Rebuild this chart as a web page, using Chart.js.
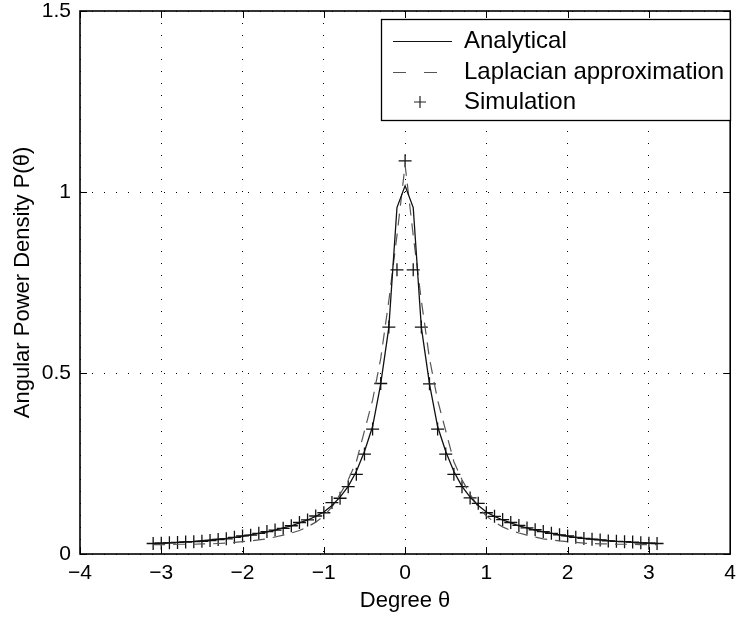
<!DOCTYPE html>
<html>
<head>
<meta charset="utf-8">
<title>Angular Power Density</title>
<script src="https://cdn.jsdelivr.net/npm/chart.js@4/dist/chart.umd.min.js"></script>
<style>
  html, body { margin: 0; padding: 0; background: #fff; }
  #wrap { width: 738px; height: 619px; }
</style>
</head>
<body>
<div id="wrap"><canvas id="myChart" width="738" height="619"></canvas></div>
<script>
'use strict';

var theta = [
  -3.1, -3.0, -2.9, -2.8, -2.7, -2.6, -2.5, -2.4, -2.3, -2.2, -2.1,
  -2.0, -1.9, -1.8, -1.7, -1.6, -1.5, -1.4, -1.3, -1.2, -1.1,
  -1.0, -0.9, -0.8, -0.7, -0.6, -0.5, -0.4, -0.3, -0.2, -0.1,
  0,
  0.1, 0.2, 0.3, 0.4, 0.5, 0.6, 0.7, 0.8, 0.9, 1.0,
  1.1, 1.2, 1.3, 1.4, 1.5, 1.6, 1.7, 1.8, 1.9, 2.0,
  2.1, 2.2, 2.3, 2.4, 2.5, 2.6, 2.7, 2.8, 2.9, 3.0, 3.1
];

var analytical = [
  0.029, 0.030, 0.031, 0.032, 0.034, 0.035, 0.037, 0.039, 0.041, 0.043, 0.046,
  0.049, 0.053, 0.057, 0.061, 0.066, 0.072, 0.078, 0.086, 0.094, 0.104,
  0.116, 0.134, 0.157, 0.187, 0.228, 0.283, 0.352, 0.470, 0.626, 0.957,
  1.017,
  0.957, 0.626, 0.470, 0.352, 0.283, 0.228, 0.187, 0.157, 0.134, 0.116,
  0.104, 0.094, 0.086, 0.078, 0.072, 0.066, 0.061, 0.057, 0.053, 0.049,
  0.046, 0.043, 0.041, 0.039, 0.037, 0.035, 0.034, 0.032, 0.031, 0.030, 0.029
];

var laplacian = [
  0.026, 0.026, 0.026, 0.027, 0.027, 0.027, 0.028, 0.028, 0.029, 0.030, 0.032,
  0.034, 0.036, 0.039, 0.042, 0.047, 0.052, 0.058, 0.065, 0.075, 0.088,
  0.105, 0.130, 0.165, 0.205, 0.255, 0.340, 0.425, 0.540, 0.700, 0.880,
  1.075,
  0.880, 0.700, 0.540, 0.425, 0.340, 0.255, 0.205, 0.165, 0.130, 0.105,
  0.088, 0.075, 0.065, 0.058, 0.052, 0.047, 0.042, 0.039, 0.036, 0.034,
  0.032, 0.030, 0.029, 0.028, 0.028, 0.027, 0.027, 0.027, 0.026, 0.026, 0.026
];

var simulation = [
  0.029, 0.030, 0.031, 0.032, 0.033, 0.034, 0.035, 0.037, 0.040, 0.042, 0.046,
  0.050, 0.052, 0.057, 0.062, 0.066, 0.071, 0.078, 0.087, 0.094, 0.105,
  0.114, 0.142, 0.154, 0.186, 0.220, 0.276, 0.345, 0.471, 0.627, 0.785,
  1.086,
  0.785, 0.627, 0.470, 0.345, 0.276, 0.220, 0.186, 0.155, 0.140, 0.114,
  0.104, 0.095, 0.087, 0.079, 0.072, 0.067, 0.062, 0.057, 0.053, 0.050,
  0.046, 0.043, 0.041, 0.039, 0.036, 0.035, 0.034, 0.033, 0.031, 0.030, 0.029
];

var seriesNames = ['Analytical', 'Laplacian approximation', 'Simulation'];
var xTicks = [-4, -3, -2, -1, 0, 1, 2, 3, 4];
var yTicks = [0, 0.5, 1, 1.5];

var FONT = '"Liberation Sans", Arial, Helvetica, sans-serif';

function pts(ys) {
  return theta.map(function (t, i) { return { x: t, y: ys[i] }; });
}

function fmt(v) {
  return v < 0 ? '\u2212' + Math.abs(v) : String(v);
}

// frame + inward ticks on all four sides, like matlab's box on
var framePlugin = {
  id: 'frame',
  afterDraw: function (chart) {
    var ctx = chart.ctx, a = chart.chartArea;
    var xs = chart.scales.x, ys = chart.scales.y;
    var tl = 7;
    ctx.save();
    ctx.strokeStyle = '#000';
    ctx.lineWidth = 1;
    ctx.beginPath();
    xTicks.forEach(function (v) {
      var p = Math.round(xs.getPixelForValue(v)) + 0.5;
      ctx.moveTo(p, a.bottom); ctx.lineTo(p, a.bottom - tl);
      ctx.moveTo(p, a.top); ctx.lineTo(p, a.top + tl);
    });
    yTicks.forEach(function (v) {
      var p = Math.round(ys.getPixelForValue(v)) + 0.5;
      ctx.moveTo(a.left, p); ctx.lineTo(a.left + tl, p);
      ctx.moveTo(a.right, p); ctx.lineTo(a.right - tl, p);
    });
    ctx.stroke();
    ctx.lineWidth = 1.6;
    ctx.strokeRect(a.left, a.top, a.right - a.left, a.bottom - a.top);
    ctx.restore();
  }
};

var legendPlugin = {
  id: 'boxLegend',
  afterDraw: function (chart) {
    var ctx = chart.ctx;
    var bx = 381, by = 19, bw = 349, bh = 101;
    var rows = [41.5, 72.5, 102];
    ctx.save();
    ctx.fillStyle = '#fff';
    ctx.fillRect(bx, by, bw, bh);
    ctx.strokeStyle = '#000';
    ctx.lineWidth = 1.3;
    ctx.strokeRect(bx + 0.5, by + 0.5, bw, bh);

    ctx.lineWidth = 1.2;
    ctx.strokeStyle = '#111';
    ctx.beginPath(); ctx.moveTo(393, rows[0]); ctx.lineTo(452, rows[0]); ctx.stroke();

    ctx.strokeStyle = '#555';
    ctx.setLineDash([13, 18]);
    ctx.beginPath(); ctx.moveTo(393, rows[1]); ctx.lineTo(452, rows[1]); ctx.stroke();
    ctx.setLineDash([]);

    ctx.strokeStyle = '#222';
    ctx.beginPath();
    ctx.moveTo(414, rows[2]); ctx.lineTo(426, rows[2]);
    ctx.moveTo(420, rows[2] - 6); ctx.lineTo(420, rows[2] + 6);
    ctx.stroke();

    ctx.fillStyle = '#000';
    ctx.font = '24px ' + FONT;
    ctx.textBaseline = 'middle';
    ctx.textAlign = 'left';
    seriesNames.forEach(function (s, i) { ctx.fillText(s, 464, rows[i]); });
    ctx.restore();
  }
};

var config = {
  type: 'line',
  data: {
    datasets: [{
      label: seriesNames[0],
      data: pts(analytical),
      borderColor: '#111',
      borderWidth: 1.3,
      pointRadius: 0,
      tension: 0
    }, {
      label: seriesNames[1],
      data: pts(laplacian),
      borderColor: '#555',
      borderWidth: 1.2,
      borderDash: [12, 8],
      pointRadius: 0,
      tension: 0
    }, {
      label: seriesNames[2],
      data: pts(simulation),
      showLine: false,
      pointStyle: 'cross',
      pointRadius: 6.5,
      pointBorderColor: '#111',
      pointBorderWidth: 1.3
    }]
  },
  options: {
    responsive: false,
    animation: false,
    layout: { padding: { top: 11, right: 5, left: 0, bottom: 0 } },
    plugins: {
      legend: { display: false },
      tooltip: { enabled: false }
    },
    scales: {
      x: {
        type: 'linear',
        min: -4, max: 4,
        afterBuildTicks: function (s) { s.ticks = xTicks.map(function (v) { return { value: v }; }); },
        afterFit: function (s) { s.height = 65; s.paddingLeft = 0; s.paddingRight = 0; },
        grid: { color: '#000', lineWidth: 1, drawTicks: false },
        border: { display: false, dash: [1, 11] },
        ticks: {
          color: '#000', padding: 7, maxRotation: 0,
          font: { family: FONT, size: 21 },
          callback: fmt
        },
        title: {
          display: true, text: 'Degree \u03b8', color: '#000',
          font: { family: FONT, size: 22 },
          padding: { top: 0, bottom: 5 }
        }
      },
      y: {
        min: 0, max: 1.5,
        afterBuildTicks: function (s) { s.ticks = yTicks.map(function (v) { return { value: v }; }); },
        afterFit: function (s) { s.width = 80; s.paddingTop = 0; s.paddingBottom = 0; },
        grid: { color: '#000', lineWidth: 1, drawTicks: false },
        border: { display: false, dash: [1, 11] },
        ticks: {
          color: '#000', padding: 9,
          font: { family: FONT, size: 21 },
          callback: fmt
        },
        title: {
          display: true, text: 'Angular Power Density P(\u03b8)', color: '#000',
          font: { family: FONT, size: 22 },
          padding: { top: 10, bottom: 0 }
        }
      }
    }
  },
  plugins: [framePlugin, legendPlugin]
};

var ctx = document.getElementById('myChart').getContext('2d');
window.myLine = new Chart(ctx, config);
</script>
</body>
</html>
